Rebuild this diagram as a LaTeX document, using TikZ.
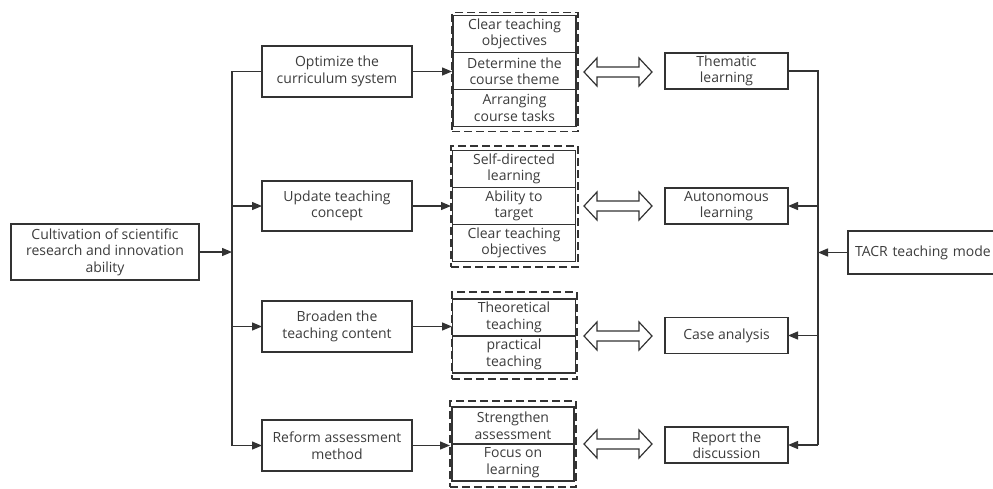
\documentclass[tikz,border=0pt]{standalone}
\usepackage{fontspec}
\setmainfont{Open Sans}
\usetikzlibrary{arrows.meta,calc}
\definecolor{ln}{HTML}{333333}
\definecolor{tx}{HTML}{3C3C3C}
\begin{document}
\begin{tikzpicture}[x=1pt,y=-1pt,
  box/.style={draw=ln, line width=1.3pt, text=tx, align=center, inner sep=0pt, outer sep=0pt, font=\fontsize{14}{16.5}\selectfont},
  cell/.style={box, minimum width=123pt, minimum height=37pt},
  lbox/.style={box, minimum width=150pt},
  rbox/.style={box, minimum width=123pt, minimum height=36pt},
  grp/.style={draw=ln, line width=1.3pt, dash pattern=on 8pt off 4pt, inner sep=0pt, outer sep=0pt},
  conn/.style={draw=ln, line width=1.3pt},
  arr/.style={conn, -{Triangle[length=10pt,width=8pt]}},
  dbl/.style={draw=ln, line width=1.2pt, fill=white, line join=miter},
  dblarrow/.pic={\draw[dbl] (-34,0) -- (-21,-14) -- (-21,-5) -- (21,-5) -- (21,-14) -- (34,0) -- (21,14) -- (21,5) -- (-21,5) -- (-21,14) -- cycle;}
]
\useasboundingbox (0,0) rectangle (993,488);
\clip (0,0) rectangle (993,488);

% left column
\node[box, minimum width=188pt, minimum height=56pt] (cult) at (105,252) {Cultivation of scientific\\research and innovation\\ability};
\node[lbox, minimum height=51pt] (opt) at (337,71.5) {Optimize the\\curriculum system};
\node[lbox, minimum height=50pt] (upd) at (337,206) {Update teaching\\concept};
\node[lbox, minimum height=51pt] (bro) at (337,326.5) {Broaden the\\teaching content};
\node[lbox, minimum height=51pt] (ref) at (337,445.5) {Reform assessment\\method};

% groups (dashed outlines)
\node[grp, minimum width=126pt, minimum height=119pt] (G1) at (515,72.2) {};
\node[grp, minimum width=127pt, minimum height=121pt] (G2) at (514.5,206.5) {};
\node[grp, minimum width=125pt, minimum height=87pt] (G3) at (514.5,335.5) {};
\node[grp, minimum width=126pt, minimum height=86pt] (G4) at (513,444) {};

% group cells
\node[cell] (c11) at (514.5,34) {Clear teaching\\objectives};
\node[cell] (c12) at (514.5,71) {Determine the\\course theme};
\node[cell] (c13) at (514.5,108) {Arranging\\course tasks};
\node[cell] (c21) at (514,169) {Self-directed\\learning};
\node[cell] (c22) at (514,206) {Ability to\\target};
\node[cell] (c23) at (514,243) {Clear teaching\\objectives};
\node[cell] (c31) at (514,317.5) {Theoretical\\teaching};
\node[cell] (c32) at (514,354.5) {practical\\teaching};
\node[cell, minimum width=122pt] (c41) at (513,425.5) {Strengthen\\assessment};
\node[cell, minimum width=122pt] (c42) at (513,462.5) {Focus on\\learning};

% right column
\node[rbox] (them) at (726.5,71) {Thematic\\learning};
\node[rbox] (auto) at (726.5,206) {Autonomous\\learning};
\node[rbox] (case) at (726.5,335.5) {Case analysis};
\node[rbox] (rep) at (726.5,445) {Report the\\discussion};
\node[box, minimum width=150pt, minimum height=43pt, text width=140pt, align=left, anchor=west] (tacr) at (848,252.5) {\hspace*{2pt}TACR teaching mode};

% double arrows
\pic at (618,72) {dblarrow};
\pic at (618,206) {dblarrow};
\pic at (618,336) {dblarrow};
\pic at (618,444) {dblarrow};

% left bus
\coordinate (lb) at (232,252);
\coordinate (lbot) at (232,445.5);
\draw[conn] (opt.west) -| (lbot);
\draw[arr] (cult.east) -- (lb);
\draw[arr] (upd.west -| lb) -- (upd.west);
\draw[arr] (bro.west -| lb) -- (bro.west);
\draw[arr] (lbot) -- (ref.west);

% to groups
\draw[arr] (opt.east) -- (opt.east -| G1.west);
\draw[arr] (upd.east) -- (upd.east -| G2.west);
\draw[arr] (bro.east) -- (bro.east -| G3.west);
\draw[arr] (ref.east) -- (ref.east -| G4.west);

% right bus
\coordinate (rb) at (818,445);
\draw[conn] (them.east) -| (rb);
\draw[arr] (auto.east -| rb) -- (auto.east);
\draw[arr] (case.east -| rb) -- (case.east);
\draw[arr] (rb) -- (rep.east);
\draw[arr] (tacr.west) -- (tacr.west -| rb);
\end{tikzpicture}
\end{document}
